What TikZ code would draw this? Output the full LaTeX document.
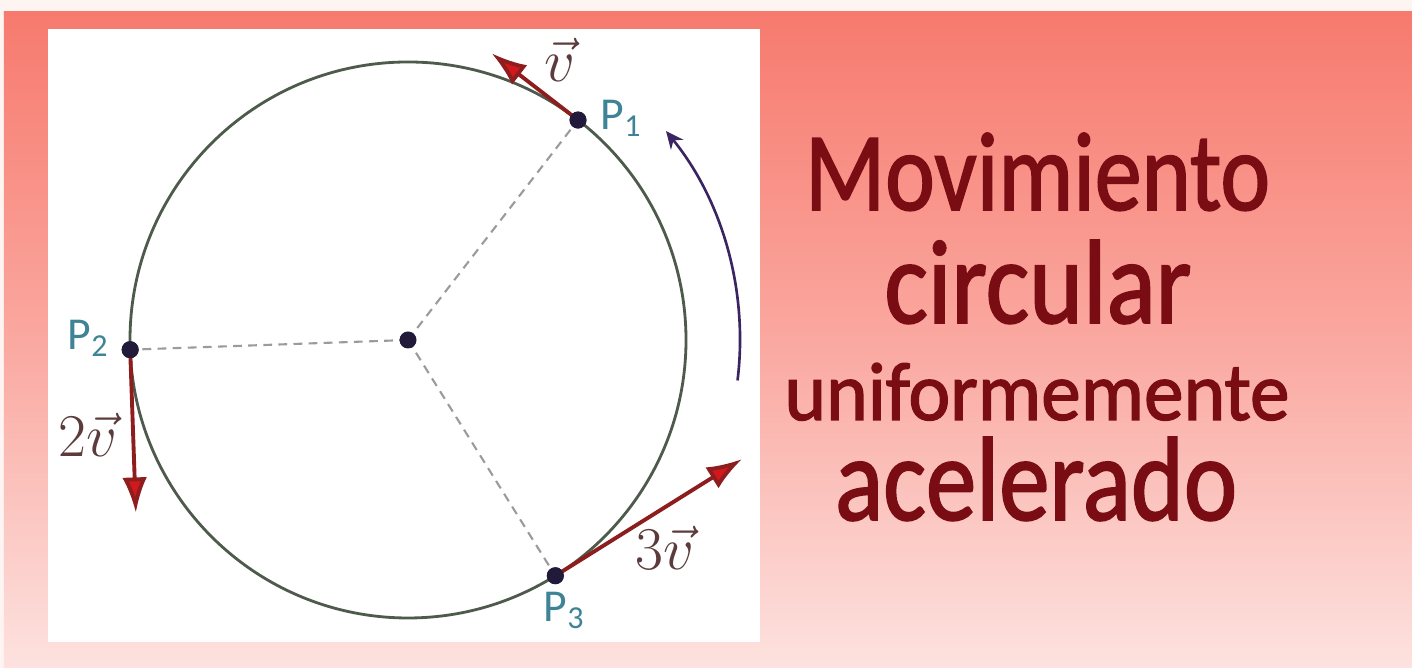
\documentclass[tikz,border=0pt]{standalone}
\usepackage{fontspec}
\setmainfont{Carlito}
\newfontfamily\ttlfont{Carlito}[FakeBold=1.6]
\usepackage{graphicx}
\usetikzlibrary{arrows.meta,calc}
\definecolor{bgtop}{RGB}{247,122,110}
\definecolor{bgmid}{RGB}{250,168,160}
\definecolor{bgbot}{RGB}{253,226,223}
\definecolor{titlered}{RGB}{122,12,20}
\definecolor{ringcol}{RGB}{78,90,76}
\definecolor{dashcol}{RGB}{155,155,155}
\definecolor{dotcol}{RGB}{33,26,59}
\definecolor{arccol}{RGB}{58,36,98}
\definecolor{vshaft}{RGB}{142,30,30}
\definecolor{vhead}{RGB}{210,24,28}
\definecolor{vlabcol}{RGB}{91,59,59}
\definecolor{plabcol}{RGB}{63,131,151}

\begin{document}
\begin{tikzpicture}[
  pt/.style={circle,fill=dotcol,inner sep=0pt,minimum size=1.7mm},
  rad/.style={dashcol,line width=0.6pt,dash pattern=on 2.5pt off 1.8pt},
  vec/.style={vshaft,line width=1.1pt,-{Latex[length=10pt,width=7pt,fill=vhead]}},
  vlab/.style={vlabcol,font=\fontsize{17}{20}\selectfont,inner sep=0pt,anchor=base},
  plab/.style={plabcol,font=\fontsize{13}{15}\selectfont,inner sep=0pt,anchor=base west},
  ttl/.style={titlered,font=\ttlfont,inner sep=0pt,anchor=base}]
\useasboundingbox (0,0) rectangle (14.12,6.68);
% background
\fill[bgbot!40!white] (0,0) rectangle (14.12,6.68);
\shade[top color=bgtop,bottom color=bgbot,middle color=bgmid] (0.04,0) rectangle (14.12,6.56);
\fill[white] (0.48,0.26) rectangle (7.60,6.39);
% circle and points
\coordinate (O) at (4.08,3.28);
\draw[ringcol,line width=0.8pt] (O) circle[radius=2.78];
\node[pt] (p1) at ($(O)+(52.3:2.78)$) {};
\node[pt] (p2) at ($(O)+(182:2.78)$) {};
\node[pt] (p3) at ($(O)+(-58:2.78)$) {};
\draw[rad] (O) -- (p1.center);
\draw[rad] (O) -- (p2.center);
\draw[rad] (O) -- (p3.center);
\node[pt] (o) at (O) {};
% velocities
\coordinate (v1) at ($(p1)+(142.3:1.09)$);
\coordinate (v2) at ($(p2)+(272:1.63)$);
\coordinate (v3) at ($(p3)+(32:2.20)$);
\draw[vec] (p1.center) -- (v1);
\draw[vec] (p2.center) -- (v2);
\draw[vec] (p3.center) -- (v3);
\node[pt] at (p1) {};
\node[pt] at (p2) {};
\node[pt] at (p3) {};
% sense of rotation
\coordinate (a0) at ($(O)+(-7:3.32)$);
\draw[arccol,line width=0.75pt,-{Stealth[length=5pt,width=4.5pt]}] (a0) arc[start angle=-7,end angle=39,radius=3.32];
% labels
\node[vlab] (l1) at (5.60,5.86) {$\vec{v}$};
\node[vlab] (l2) at (0.88,2.11) {$2\vec{v}$};
\node[vlab] (l3) at (6.65,0.98) {$3\vec{v}$};
\node[plab] (n1) at (6.00,5.38) {P\textsubscript{1}};
\node[plab] (n2) at (0.67,3.18) {P\textsubscript{2}};
\node[plab] (n3) at (5.43,0.46) {P\textsubscript{3}};
% title
\node[ttl] (t1) at (10.375,4.58) {\resizebox{4.65cm}{0.77cm}{Movimiento}};
\node[ttl] (t2) at (10.38,3.45) {\resizebox{3.07cm}{0.83cm}{circular}};
\node[ttl] (t3) at (10.37,2.48) {\resizebox{5.05cm}{0.57cm}{uniformemente}};
\node[ttl] (t4) at (10.36,1.48) {\resizebox{4.02cm}{0.83cm}{acelerado}};
\end{tikzpicture}
\end{document}
